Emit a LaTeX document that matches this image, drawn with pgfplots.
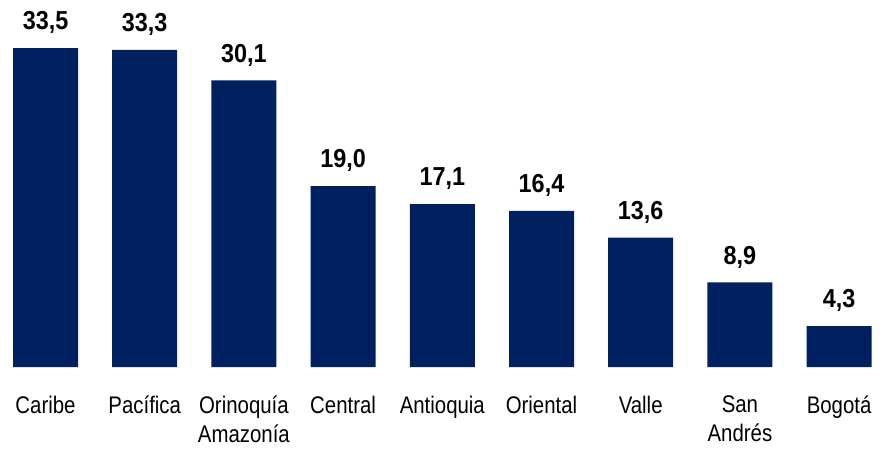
\documentclass[border=0pt]{standalone}
\usepackage{pgfplots}
\pgfplotsset{compat=1.18}
\usepackage{fontspec}
\setmainfont{Liberation Sans}[FakeStretch=0.85, BoldFeatures={FakeStretch=0.9}]
\definecolor{barblue}{HTML}{002060}
\begin{document}
\begin{tikzpicture}[x=1pt,y=1pt]
\useasboundingbox (0,-81) rectangle (886,367);
\begin{axis}[
  at={(0,0)}, anchor=south west,
  scale only axis,
  width=886pt, height=367pt,
  xmin=-0.459, xmax=8.473,
  ymin=0, ymax=38.55,
  ybar, bar width=65pt,
  axis line style={draw=none},
  ytick=\empty,
  xtick={0,...,8},
  xticklabels={Caribe,Pacífica,{Orinoquía\\Amazonía},Central,Antioquia,Oriental,Valle,{San\\Andrés},Bogotá},
  major tick length=0pt,
  xticklabel style={align=center, font=\fontsize{24}{29}\selectfont, inner sep=0pt, anchor=north, yshift=-29pt},
  nodes near coords,
  /pgf/number format/.cd, use comma, fixed, fixed zerofill, precision=1, assume math mode=true,
  /pgfplots/.cd,
  every node near coord/.append style={font=\fontsize{26}{26}\selectfont\bfseries, inner sep=0pt, anchor=south, yshift=14pt, text=black},
  clip=false,
]
\addplot[fill=barblue, draw=none] coordinates {
(0,33.5) (1,33.3) (2,30.1) (3,19.0) (4,17.1) (5,16.4) (6,13.6) (7,8.9) (8,4.3)
};
\end{axis}
\end{tikzpicture}
\end{document}
